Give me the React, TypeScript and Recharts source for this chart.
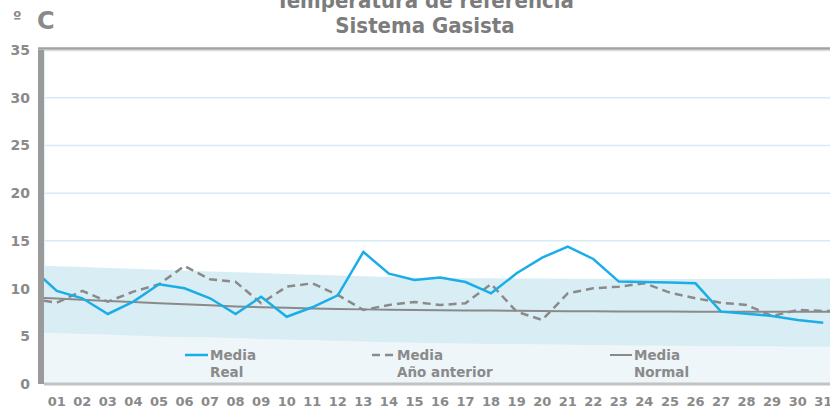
import React from 'react'
import {
  ComposedChart,
  Area,
  Line,
  XAxis,
  YAxis,
  CartesianGrid,
} from 'recharts'

// day 0 and day 32 sit just outside the visible range (clipped at the edges)
const days = [0, 1, 2, 3, 4, 5, 6, 7, 8, 9, 10, 11, 12, 13, 14, 15, 16, 17, 18, 19, 20, 21, 22, 23, 24, 25, 26, 27, 28, 29, 30, 31, 32]

const mediaReal = [12.2, 9.75, 8.98, 7.34, 8.63, 10.45, 10.03, 8.98, 7.34, 9.15, 7.05, 8.04, 9.29, 13.84, 11.56, 10.9, 11.15, 10.69, 9.5, 11.6, 13.24, 14.4, 13.1, 10.73, 10.7, 10.64, 10.55, 7.58, 7.36, 7.13, 6.71, 6.43, null]
const mediaAnterior = [8.95, 8.52, 9.75, 8.63, 9.68, 10.45, 12.37, 10.97, 10.7, 8.46, 10.2, 10.55, 9.33, 7.76, 8.28, 8.6, 8.28, 8.46, 10.48, 7.58, 6.71, 9.5, 10.03, 10.2, 10.55, 9.57, 8.98, 8.52, 8.28, 7.13, 7.76, 7.65, 7.65]
const mediaNormal = [9.05, 8.95, 8.83, 8.71, 8.59, 8.47, 8.36, 8.24, 8.13, 8.05, 7.98, 7.92, 7.87, 7.82, 7.78, 7.75, 7.73, 7.71, 7.69, 7.67, 7.65, 7.63, 7.62, 7.6, 7.6, 7.59, 7.58, 7.58, 7.58, 7.57, 7.57, 7.57, 7.57]
const bandaMax = [12.45, 12.35, 12.25, 12.16, 12.07, 11.98, 11.89, 11.8, 11.72, 11.63, 11.54, 11.45, 11.36, 11.28, 11.2, 11.13, 11.1, 11.08, 11.07, 11.06, 11.05, 11.04, 11.03, 11.02, 11.01, 11.0, 11.0, 11.0, 11.0, 11.0, 11.02, 11.05, 11.07]
const bandaMin = [5.4, 5.32, 5.24, 5.16, 5.08, 5.0, 4.93, 4.86, 4.79, 4.72, 4.65, 4.58, 4.51, 4.44, 4.38, 4.32, 4.27, 4.23, 4.19, 4.16, 4.13, 4.1, 4.07, 4.04, 4.02, 4.0, 3.98, 3.96, 3.94, 3.92, 3.9, 3.9, 3.9]

const yTicks = [0, 5, 10, 15, 20, 25, 30, 35]
const dayTicks = days.slice(1, 32)
const gridTicks = dayTicks.slice(0, 30).map(d => d + 0.5)

const data = days.map((d, i) => ({
  day: d,
  real: mediaReal[i],
  anterior: mediaAnterior[i],
  normal: mediaNormal[i],
  min: bandaMin[i],
  band: [bandaMin[i], bandaMax[i]],
}))

const FONT = "'DejaVu Sans', Verdana, sans-serif"
const TITLE_FONT = "'DejaVu Sans Condensed', 'DejaVu Sans', sans-serif"
const GRAY = '#8a8a8a'
const BLUE = '#1aaee8'

function Overlay() {
  const legendText = { fontFamily: FONT, fontSize: 13.5, fontWeight: 700, fill: GRAY }
  return (
    <svg width={830} height={408} style={{ position: 'absolute', left: 0, top: 0, pointerEvents: 'none' }}>
      <text x={425} y={8} textAnchor="middle" fontFamily={TITLE_FONT} fontStretch="condensed" fontSize={22} fontWeight={700} fill="#7c7c7c">
        Temperatura de referencia
      </text>
      <text x={425} y={33} textAnchor="middle" fontFamily={TITLE_FONT} fontStretch="condensed" fontSize={22} fontWeight={700} fill="#7c7c7c">
        Sistema Gasista
      </text>
      <text x={13} y={22} fontFamily={FONT} fontSize={15} fontWeight={700} fill={GRAY}>º</text>
      <text x={37} y={29} fontFamily={FONT} fontSize={24} fontWeight={700} fill={GRAY}>C</text>

      <line x1={38} y1={48.5} x2={830} y2={48.5} stroke="#a0a0a0" strokeWidth={2.5} />
      <line x1={44} y1={50.5} x2={830} y2={50.5} stroke="#dcdcdc" strokeWidth={1.5} />

      <line x1={185} y1={355} x2={208} y2={355} stroke={BLUE} strokeWidth={2.5} />
      <text x={210} y={360} {...legendText}>Media</text>
      <text x={210} y={377} {...legendText}>Real</text>

      <line x1={372} y1={355} x2={395} y2={355} stroke={GRAY} strokeWidth={2.5} strokeDasharray="8 5" />
      <text x={397} y={360} {...legendText}>Media</text>
      <text x={397} y={377} {...legendText}>Año anterior</text>

      <line x1={610} y1={355} x2={632} y2={355} stroke={GRAY} strokeWidth={2} />
      <text x={634} y={360} {...legendText}>Media</text>
      <text x={634} y={377} {...legendText}>Normal</text>
    </svg>
  )
}

export default function App() {
  return (
    <div style={{ position: 'absolute', left: 0, top: 0, width: 830, height: 408, overflow: 'hidden', background: '#fff' }}>
      <ComposedChart width={836} height={408} data={data} margin={{ top: 50, right: 0, bottom: 0, left: 0 }}>
        <CartesianGrid xAxisId="top" stroke="#d6ebf5" strokeWidth={1.5} />
        <XAxis
          dataKey="day"
          type="number"
          domain={[0.5, 31.5]}
          allowDataOverflow
          ticks={dayTicks}
          interval={0}
          tickFormatter={(d: number) => String(d).padStart(2, '0')}
          tick={{ fontFamily: FONT, fontSize: 13, fontWeight: 700, fill: GRAY }}
          tickLine={false}
          tickSize={0}
          tickMargin={13}
          height={24}
          axisLine={{ stroke: '#c2c2c2', strokeWidth: 3 }}
        />
        <XAxis
          xAxisId="top"
          orientation="top"
          dataKey="day"
          type="number"
          domain={[0.5, 31.5]}
          allowDataOverflow
          ticks={gridTicks}
          tick={false}
          tickLine={false}
          height={0}
          axisLine={false}
        />
        <YAxis
          type="number"
          domain={[0, 35]}
          ticks={yTicks}
          interval={0}
          width={44}
          tick={{ fontFamily: FONT, fontSize: 14, fontWeight: 700, fill: GRAY }}
          tickLine={false}
          tickSize={0}
          tickMargin={14}
          axisLine={{ stroke: '#9a9a9a', strokeWidth: 6, transform: 'translate(-3,0)' }}
        />
        <Area dataKey="min" stroke="none" fill="#eef6fa" fillOpacity={1} isAnimationActive={false} dot={false} activeDot={false} />
        <Area dataKey="band" stroke="none" fill="#d9edf4" fillOpacity={1} isAnimationActive={false} dot={false} activeDot={false} />
        <Line dataKey="normal" stroke={GRAY} strokeWidth={2} dot={false} isAnimationActive={false} />
        <Line dataKey="anterior" stroke={GRAY} strokeWidth={2.5} strokeDasharray="8 5" dot={false} isAnimationActive={false} />
        <Line dataKey="real" stroke={BLUE} strokeWidth={2.5} dot={false} isAnimationActive={false} connectNulls={false} />
      </ComposedChart>
      <Overlay />
    </div>
  )
}
